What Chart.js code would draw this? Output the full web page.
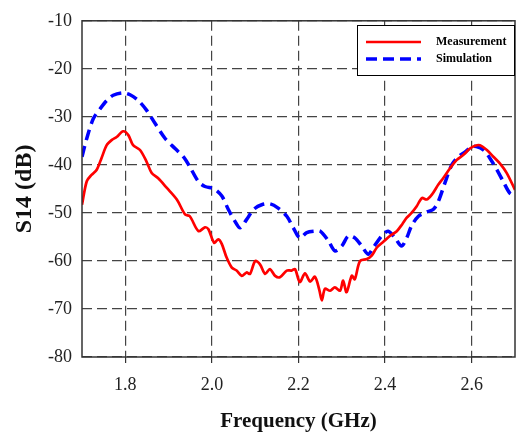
<!DOCTYPE html>
<html>
<head>
<meta charset="utf-8">
<script src="https://cdn.jsdelivr.net/npm/chart.js@4"></script>
<style>
  html, body { margin: 0; padding: 0; background: #fff; }
  #wrap { width: 517px; height: 434px; }
</style>
</head>
<body>
<div id="wrap"><canvas id="s14-chart" width="517" height="434"></canvas></div>
<script>
    // frequency axis labels
    const xTicks = [1.8, 2.0, 2.2, 2.4, 2.6];
    const yTicks = [-80, -70, -60, -50, -40, -30, -20, -10];

    // Measurement (GHz / dB)
    const measFreq = [1.700, 1.711, 1.722, 1.734, 1.745, 1.757, 1.769, 1.780, 1.795, 1.807, 1.818, 1.834, 1.849, 1.861, 1.876, 1.896, 1.919, 1.938, 1.949, 1.969, 1.984, 1.992, 2.005, 2.015, 2.023, 2.034, 2.046, 2.057, 2.069, 2.080, 2.088, 2.100, 2.111, 2.123, 2.134, 2.146, 2.157, 2.173, 2.184, 2.192, 2.203, 2.215, 2.227, 2.238, 2.248, 2.254, 2.261, 2.273, 2.284, 2.296, 2.303, 2.311, 2.323, 2.330, 2.342, 2.358, 2.369, 2.381, 2.396, 2.411, 2.427, 2.440, 2.450, 2.461, 2.473, 2.485, 2.496, 2.508, 2.523, 2.534, 2.550, 2.565, 2.581, 2.596, 2.608, 2.619, 2.635, 2.650, 2.665, 2.681, 2.700];
    const measS14 = [-48.3, -43.4, -42.1, -41.0, -38.6, -35.9, -34.8, -34.2, -33.0, -33.8, -35.9, -36.9, -39.3, -41.7, -42.8, -44.8, -47.2, -50.3, -50.7, -53.8, -53.0, -53.4, -56.2, -55.5, -56.5, -59.3, -61.4, -62.0, -63.1, -62.4, -62.7, -60.0, -60.7, -62.7, -61.7, -63.1, -63.4, -62.0, -62.0, -61.7, -64.4, -62.6, -64.3, -63.3, -66.0, -68.2, -65.8, -66.2, -65.5, -66.2, -64.1, -66.5, -63.1, -63.8, -60.0, -59.6, -58.9, -57.2, -56.0, -54.8, -53.8, -52.3, -51.0, -50.0, -48.6, -46.9, -47.2, -46.2, -44.1, -42.8, -40.7, -39.0, -37.9, -36.6, -36.0, -35.9, -36.9, -38.3, -39.7, -41.7, -45.2];

    // Simulation (GHz / dB)
    const simFreq = [1.700, 1.711, 1.726, 1.742, 1.757, 1.772, 1.795, 1.811, 1.830, 1.849, 1.869, 1.892, 1.915, 1.934, 1.949, 1.969, 1.984, 2.005, 2.023, 2.038, 2.053, 2.065, 2.080, 2.096, 2.115, 2.134, 2.153, 2.173, 2.188, 2.203, 2.219, 2.238, 2.250, 2.269, 2.284, 2.300, 2.315, 2.330, 2.346, 2.361, 2.373, 2.392, 2.407, 2.423, 2.438, 2.450, 2.461, 2.477, 2.496, 2.511, 2.523, 2.538, 2.554, 2.569, 2.585, 2.600, 2.611, 2.627, 2.642, 2.658, 2.673, 2.688, 2.700];
    const simS14 = [-38.3, -34.5, -30.4, -28.3, -26.6, -25.5, -25.0, -25.4, -26.6, -28.6, -31.4, -34.5, -36.6, -38.3, -40.4, -43.5, -44.5, -45.0, -46.5, -49.3, -51.7, -53.1, -51.4, -49.3, -48.3, -48.1, -49.0, -50.7, -53.1, -55.2, -54.1, -53.8, -53.8, -55.8, -57.9, -56.9, -54.8, -55.2, -56.9, -58.6, -57.2, -54.8, -53.8, -55.2, -56.9, -55.2, -52.7, -50.7, -49.8, -49.3, -47.6, -43.8, -40.0, -38.3, -37.3, -36.2, -36.2, -36.9, -38.6, -41.0, -43.5, -45.9, -46.5];

    const toPoints = (xs, ys) => xs.map((x, i) => ({ x: x, y: ys[i] }));

    // box round the plot and the legend in the top right corner
    const framePlugin = {
      id: 'frame',
      afterDraw(chart) {
        const ctx = chart.ctx;
        const a = chart.chartArea;
        ctx.save();
        ctx.strokeStyle = '#333';
        ctx.lineWidth = 1.5;
        ctx.strokeRect(a.left, a.top, a.right - a.left, a.bottom - a.top);

        // legend
        const lx = 357, ly = 25, lw = 157, lh = 50;
        ctx.fillStyle = '#fff';
        ctx.fillRect(lx, ly, lw, lh);
        ctx.strokeStyle = '#000';
        ctx.lineWidth = 1;
        ctx.strokeRect(lx + 0.5, ly + 0.5, lw, lh);
        chart.data.datasets.forEach((ds, i) => {
          const y = ly + 17 + i * 17;
          ctx.beginPath();
          ctx.strokeStyle = ds.borderColor;
          ctx.lineWidth = ds.borderWidth;
          ctx.setLineDash(ds.borderDash || []);
          ctx.moveTo(lx + 9, y);
          ctx.lineTo(lx + 64, y);
          ctx.stroke();
          ctx.setLineDash([]);
          ctx.fillStyle = '#000';
          ctx.font = 'bold 12px "Liberation Serif", "Times New Roman", serif';
          ctx.textBaseline = 'middle';
          ctx.textAlign = 'left';
          ctx.fillText(ds.label, lx + 79, y);
        });
        ctx.restore();
      }
    };

    const ctx = document.getElementById('s14-chart').getContext('2d');
    const serif = '"Liberation Serif", "Times New Roman", serif';

    const chart = new Chart(ctx, {
      type: 'line',
      data: {
        datasets: [
          {
            label: 'Measurement',
            data: toPoints(measFreq, measS14),
            borderColor: '#ff0000',
            borderWidth: 2.7,
            pointRadius: 0,
            tension: 0.3,
            fill: false
          },
          {
            label: 'Simulation',
            data: toPoints(simFreq, simS14),
            borderColor: '#0000ff',
            borderWidth: 3.5,
            borderDash: [11, 6],
            pointRadius: 0,
            tension: 0.3,
            fill: false
          }
        ]
      },
      options: {
        responsive: false,
        animation: false,
        parsing: false,
        layout: { padding: { top: 18, right: 2, left: 0, bottom: 0 } },
        plugins: {
          legend: { display: false },
          tooltip: { enabled: false }
        },
        scales: {
          x: {
            type: 'linear',
            min: 1.7,
            max: 2.7,
            afterBuildTicks: (scale) => { scale.ticks = xTicks.map(v => ({ value: v })); },
            afterFit: (scale) => { scale.height = 77; },
            grid: {
              color: '#444',
              lineWidth: 1.2,
              tickLength: 6,
              tickColor: '#333',
              tickWidth: 1.2
            },
            border: { display: false, dash: [10, 5] },
            ticks: {
              color: '#222',
              padding: 11,
              maxRotation: 0,
              font: { family: serif, size: 18 },
              callback: (v) => Number(v).toFixed(1)
            },
            title: {
              display: true,
              text: 'Frequency (GHz)',
              color: '#111',
              font: { family: serif, size: 21, weight: 'bold' },
              padding: { top: 0, bottom: 0 }
            }
          },
          y: {
            min: -80,
            max: -10,
            afterBuildTicks: (scale) => { scale.ticks = yTicks.map(v => ({ value: v })); },
            afterFit: (scale) => { scale.width = 82; },
            grid: {
              color: '#444',
              lineWidth: 1.2,
              drawTicks: false
            },
            border: { display: false, dash: [10, 5] },
            ticks: {
              color: '#222',
              padding: 10,
              font: { family: serif, size: 18 }
            },
            title: {
              display: true,
              text: 'S14 (dB)',
              color: '#111',
              font: { family: serif, size: 24, weight: 'bold' },
              padding: { top: 10, bottom: 0 }
            }
          }
        }
      },
      plugins: [framePlugin]
    });
</script>
</body>
</html>
